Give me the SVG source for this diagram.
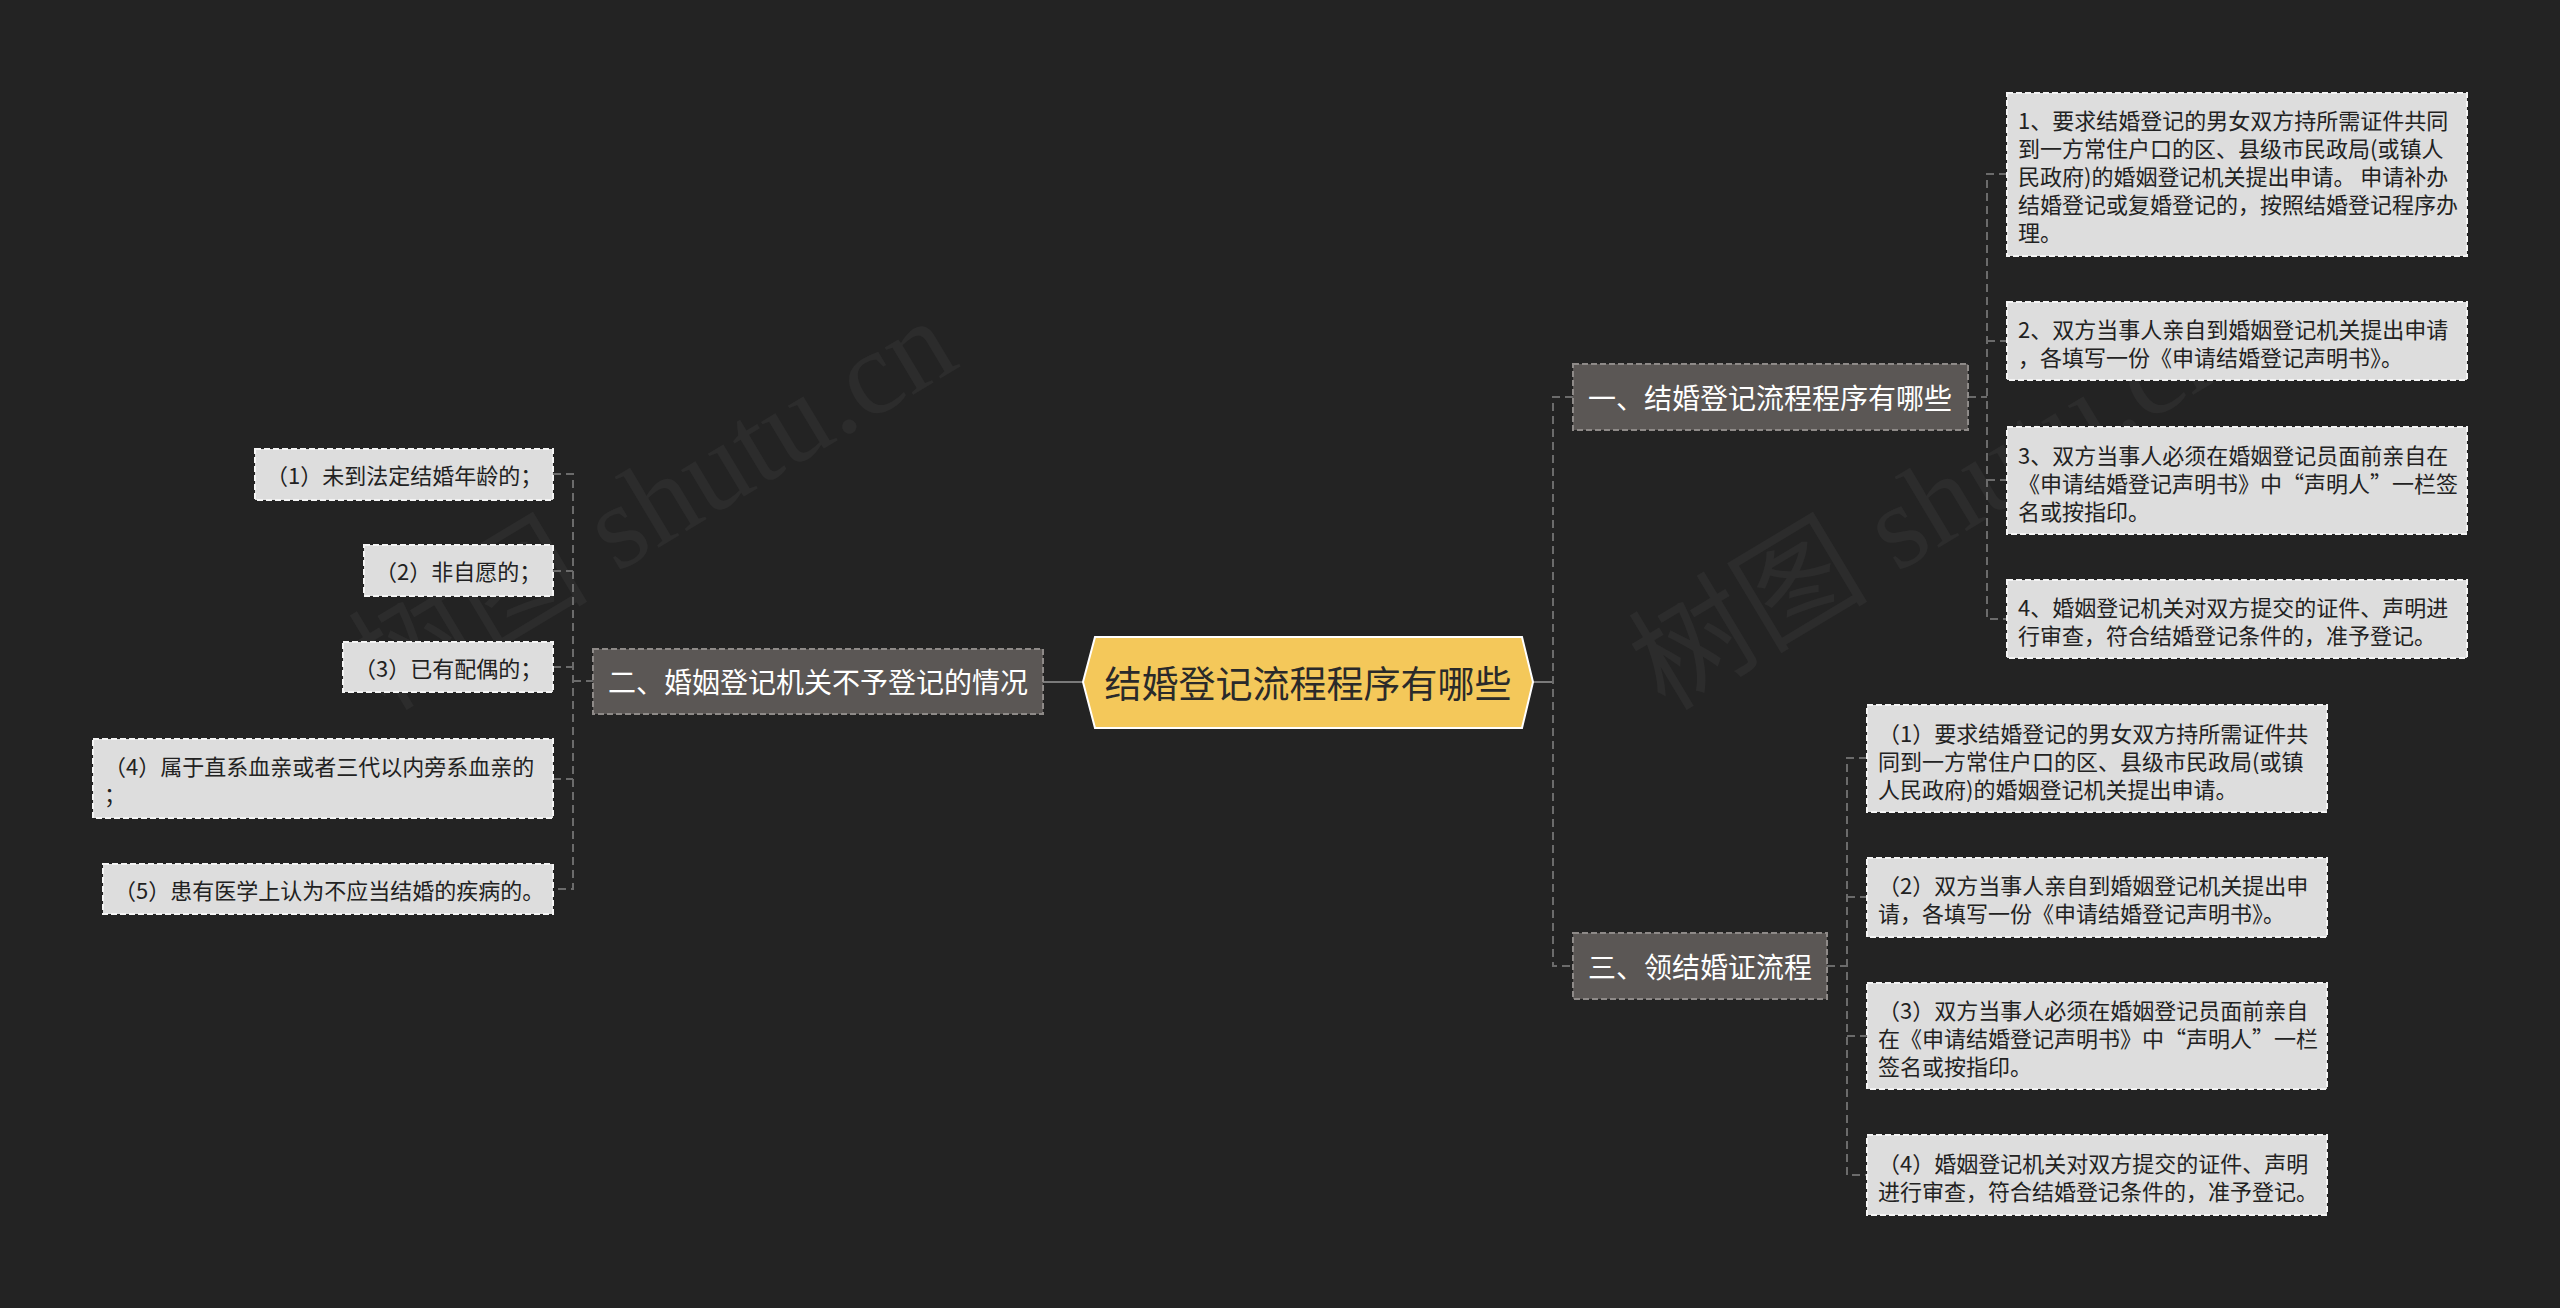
<svg xmlns="http://www.w3.org/2000/svg" width="2560" height="1308" viewBox="0 0 2560 1308">
<style>
.wm{font-family:"Liberation Serif","Noto Sans CJK SC",serif;font-size:120px;fill:#ffffff;fill-opacity:0.045}
.conn{fill:none;stroke:#6b6b6b;stroke-width:2;stroke-dasharray:8 5}
.solid{fill:none;stroke:#7a7a7a;stroke-width:2}
.leaf{fill:#dddddd;stroke:#f4f4f4;stroke-width:2;stroke-dasharray:6 3}
.lt{font-family:"Noto Sans CJK SC","Noto Sans",sans-serif;font-size:22px;fill:#222222;dominant-baseline:central}
.br{fill:#5b5755;stroke:#8e8a88;stroke-width:2;stroke-dasharray:6 3}
.bt{font-family:"Noto Sans CJK SC","Noto Sans",sans-serif;font-size:28px;fill:#ffffff;dominant-baseline:central;text-anchor:middle}
.ct{font-family:"Noto Sans CJK SC","Noto Sans",sans-serif;font-size:37px;fill:#2a2a2a;dominant-baseline:central;text-anchor:middle}
</style>
<rect width="2560" height="1308" fill="#232323"/>
<text class="wm" x="385" y="712" transform="rotate(-31 385 712)">树图 shutu.cn</text>
<text class="wm" x="1665" y="712" transform="rotate(-31 1665 712)">树图 shutu.cn</text>

<g id="connectors">
<path class="solid" d="M1043,682 H1083"/>
<path class="solid" d="M1533,682 H1553"/>
<path class="conn" d="M1573,397 H1553 V966 H1573"/>
<path class="conn" d="M553,474 H573 V889 H553 M553,571 H573 M553,667 H573 M553,779 H573 M573,681 H593"/>
<path class="conn" d="M1968,397 H1987 M2007,174 H1987 V619 H2007 M1987,341 H2007 M1987,480 H2007"/>
<path class="conn" d="M1827,966 H1847 M1867,758 H1847 V1175 H1867 M1847,897 H1867 M1847,1036 H1867"/>
</g>

<g id="center">
<polygon points="1083,682 1095,637 1522,637 1533,682 1522,728 1095,728" fill="#f4c85a" stroke="#ffffff" stroke-width="2"/>
<text class="ct" x="1308" y="682">结婚登记流程程序有哪些</text>
</g>

<g id="b1">
<rect class="br" x="1573" y="364" width="395" height="66"/>
<text class="bt" x="1770" y="397">一、结婚登记流程程序有哪些</text>
</g>
<g id="b2">
<rect class="br" x="593" y="649" width="450" height="65"/>
<text class="bt" x="818" y="681">二、婚姻登记机关不予登记的情况</text>
</g>
<g id="b3">
<rect class="br" x="1573" y="933" width="254" height="66"/>
<text class="bt" x="1700" y="966">三、领结婚证流程</text>
</g>

<g id="r1">
<rect class="leaf" x="2007" y="93" width="460" height="163"/>
<text class="lt" x="2018" y="119">1、要求结婚登记的男女双方持所需证件共同</text>
<text class="lt" x="2018" y="147">到一方常住户口的区、县级市民政局(或镇人</text>
<text class="lt" x="2018" y="175">民政府)的婚姻登记机关提出申请。 申请补办</text>
<text class="lt" x="2018" y="203">结婚登记或复婚登记的，按照结婚登记程序办</text>
<text class="lt" x="2018" y="231">理。</text>
</g>
<g id="r2">
<rect class="leaf" x="2007" y="302" width="460" height="78"/>
<text class="lt" x="2018" y="328">2、双方当事人亲自到婚姻登记机关提出申请</text>
<text class="lt" x="2018" y="356">，各填写一份《申请结婚登记声明书》。</text>
</g>
<g id="r3">
<rect class="leaf" x="2007" y="427" width="460" height="107"/>
<text class="lt" x="2018" y="454">3、双方当事人必须在婚姻登记员面前亲自在</text>
<text class="lt" x="2018" y="482">《申请结婚登记声明书》中“声明人”一栏签</text>
<text class="lt" x="2018" y="510">名或按指印。</text>
</g>
<g id="r4">
<rect class="leaf" x="2007" y="580" width="460" height="78"/>
<text class="lt" x="2018" y="606">4、婚姻登记机关对双方提交的证件、声明进</text>
<text class="lt" x="2018" y="634">行审查，符合结婚登记条件的，准予登记。</text>
</g>

<g id="s1">
<rect class="leaf" x="1867" y="705" width="460" height="107"/>
<text class="lt" x="1878" y="732">（1）要求结婚登记的男女双方持所需证件共</text>
<text class="lt" x="1878" y="760">同到一方常住户口的区、县级市民政局(或镇</text>
<text class="lt" x="1878" y="788">人民政府)的婚姻登记机关提出申请。</text>
</g>
<g id="s2">
<rect class="leaf" x="1867" y="858" width="460" height="79"/>
<text class="lt" x="1878" y="884">（2）双方当事人亲自到婚姻登记机关提出申</text>
<text class="lt" x="1878" y="912">请，各填写一份《申请结婚登记声明书》。</text>
</g>
<g id="s3">
<rect class="leaf" x="1867" y="983" width="460" height="106"/>
<text class="lt" x="1878" y="1009">（3）双方当事人必须在婚姻登记员面前亲自</text>
<text class="lt" x="1878" y="1037">在《申请结婚登记声明书》中“声明人”一栏</text>
<text class="lt" x="1878" y="1065">签名或按指印。</text>
</g>
<g id="s4">
<rect class="leaf" x="1867" y="1135" width="460" height="80"/>
<text class="lt" x="1878" y="1162">（4）婚姻登记机关对双方提交的证件、声明</text>
<text class="lt" x="1878" y="1190">进行审查，符合结婚登记条件的，准予登记。</text>
</g>

<g id="l1">
<rect class="leaf" x="255" y="449" width="298" height="51"/>
<text class="lt" x="266" y="474">（1）未到法定结婚年龄的；</text>
</g>
<g id="l2">
<rect class="leaf" x="364" y="545" width="189" height="51"/>
<text class="lt" x="375" y="570">（2）非自愿的；</text>
</g>
<g id="l3">
<rect class="leaf" x="343" y="642" width="210" height="50"/>
<text class="lt" x="354" y="667">（3）已有配偶的；</text>
</g>
<g id="l4">
<rect class="leaf" x="93" y="739" width="460" height="79"/>
<text class="lt" x="104" y="765">（4）属于直系血亲或者三代以内旁系血亲的</text>
<text class="lt" x="104" y="793">；</text>
</g>
<g id="l5">
<rect class="leaf" x="103" y="864" width="450" height="50"/>
<text class="lt" x="114" y="889">（5）患有医学上认为不应当结婚的疾病的。</text>
</g>
</svg>
